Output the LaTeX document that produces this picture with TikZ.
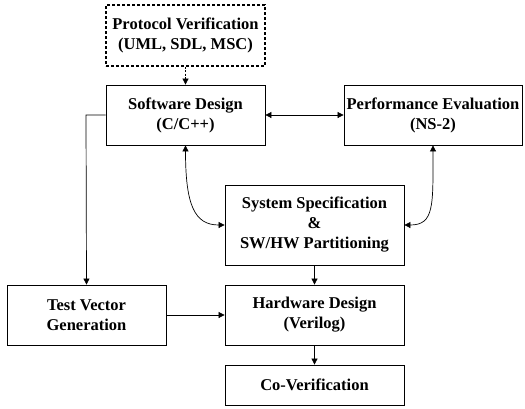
\documentclass[tikz,border=0pt]{standalone}
\usepackage{fontspec}
\setmainfont{Liberation Serif}
\usetikzlibrary{arrows.meta,calc}
\begin{document}
\begin{tikzpicture}[x=1pt,y=-1pt,
  box/.style={draw, line width=0.8pt, inner sep=0pt, align=center,
    font=\bfseries\fontsize{16.5}{20}\selectfont},
  dash box/.style={dash pattern=on 3pt off 2pt, line width=1.1pt},
  conn/.style={line width=0.7pt, -{Triangle[length=6pt,width=6pt]}},
  biconn/.style={line width=0.7pt, {Triangle[length=6pt,width=6pt]}-{Triangle[length=6pt,width=6pt]}}]
\useasboundingbox (0,0) rectangle (525,408);
\node[box, dash box, minimum width=159pt, minimum height=61pt] (pv) at (185.5,35.5) {Protocol Verification\\(UML, SDL, MSC)};
\node[box, minimum width=159pt, minimum height=60pt] (sd) at (185.5,115) {Software Design\\(C/C++)};
\node[box, minimum width=178pt, minimum height=60pt] (pe) at (433,115) {Performance Evaluation\\(NS-2)};
\node[box, minimum width=179pt, minimum height=80pt] (ss) at (314.5,225) {System Specification\\\&\\SW/HW Partitioning};
\node[box, minimum width=159pt, minimum height=60pt] (tv) at (86.5,315) {Test Vector\\Generation};
\node[box, minimum width=179pt, minimum height=60pt] (hd) at (314.5,315) {Hardware Design\\(Verilog)};
\node[box, minimum width=179pt, minimum height=40pt] (cv) at (314.5,385) {Co-Verification};
\draw[conn, dash pattern=on 2pt off 1.5pt] (pv) -- (sd);
\draw[biconn] (sd) -- (pe);
\coordinate (c1) at (86,115);
\draw[conn] (sd.west) -- (c1) -- (tv.north);
\draw[conn] (tv) -- (hd);
\draw[conn] (ss) -- (hd);
\draw[conn] (hd) -- (cv);
\draw[biconn] (sd.south) .. controls ($(sd.south)+(0,60)$) and ($(ss.west)+(-30,0)$) .. (ss.west);
\draw[biconn] (pe.south) .. controls ($(pe.south)+(0,60)$) and ($(ss.east)+(30,0)$) .. (ss.east);
\end{tikzpicture}
\end{document}
